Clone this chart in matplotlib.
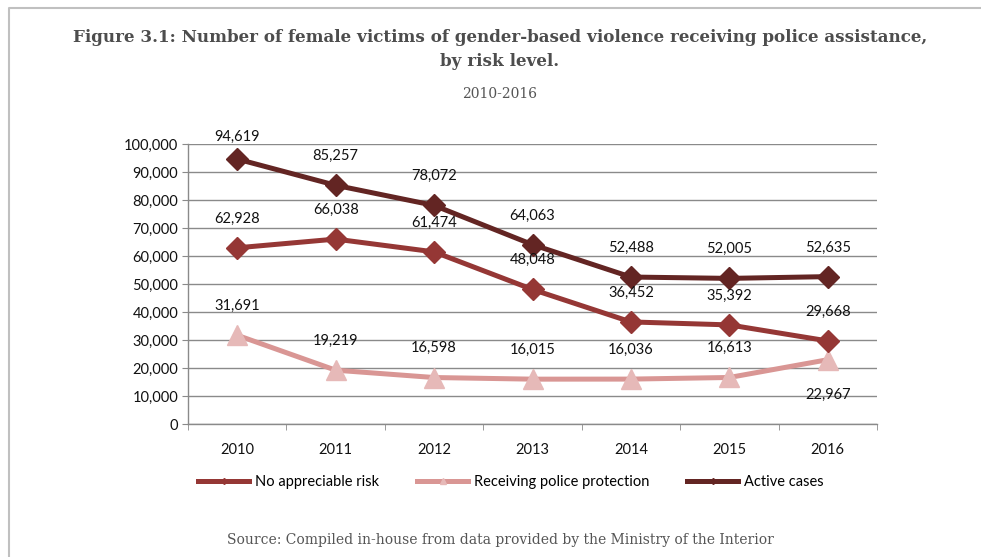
import numpy as np
import matplotlib.pyplot as plt
from matplotlib.ticker import FuncFormatter
from matplotlib.lines import Line2D

years = ['2010', '2011', '2012', '2013', '2014', '2015', '2016']
no_risk = [62928, 66038, 61474, 48048, 36452, 35392, 29668]
protection = [31691, 19219, 16598, 16015, 16036, 16613, 22967]
active = [94619, 85257, 78072, 64063, 52488, 52005, 52635]

series_names = ['No appreciable risk', 'Receiving police protection', 'Active cases']

c_active = '#632523'
c_norisk = '#953735'
c_prot_line = '#D99694'
c_prot_mark = '#E6B9B8'

plt.rcParams['font.family'] = ['Lato', 'DejaVu Sans']

fig = plt.figure(figsize=(9.81, 5.57), dpi=100)
ax = fig.add_axes([188 / 981, 1 - 424 / 557, 689 / 981, 280 / 557])

x = np.arange(len(years))

ax.plot(x, protection, color=c_prot_line, lw=3.6, marker='^', ms=14,
        mfc=c_prot_mark, mec=c_prot_mark, zorder=3)
ax.plot(x, no_risk, color=c_norisk, lw=3.6, marker='D', ms=11.5,
        mfc=c_norisk, mec=c_norisk, zorder=4)
ax.plot(x, active, color=c_active, lw=3.6, marker='D', ms=11.5,
        mfc=c_active, mec=c_active, zorder=5)

# value labels, mostly ~21pt above the point
def label(vals, special=None):
    special = special or {}
    for i, v in enumerate(vals):
        dy = special.get(i, 21)
        ax.annotate(f'{v:,}', (x[i], v), xytext=(0, dy), textcoords='offset points',
                    ha='center', va='center', fontsize=10.5, color='#111111',
                    annotation_clip=False, zorder=6)

label(active, {0: 16})
label(no_risk)
label(protection, {6: -25})

ax.set_xlim(-0.5, 6.5)
ax.set_ylim(0, 100000)
ax.set_yticks(np.arange(0, 100001, 10000))
ax.yaxis.set_major_formatter(FuncFormatter(lambda v, p: f'{v:,.0f}'))
ax.set_xticks(x)
ax.set_xticklabels(years)
ax.set_xticks(np.arange(-0.5, 7, 1), minor=True)

ax.grid(axis='y', color='#8a8a8a', lw=1)
ax.set_axisbelow(True)
for s in ['top', 'right']:
    ax.spines[s].set_visible(False)
for s in ['left', 'bottom']:
    ax.spines[s].set_color('#8a8a8a')
    ax.spines[s].set_linewidth(1)

ax.tick_params(axis='y', length=4, color='#8a8a8a', labelsize=10.5, pad=3, labelcolor='#111111')
ax.tick_params(axis='x', which='major', length=0, labelsize=10.5, pad=14, labelcolor='#111111')
ax.tick_params(axis='x', which='minor', length=4, color='#8a8a8a')

handles = [
    Line2D([], [], color=c_norisk, lw=3.6, marker='D', ms=3, mfc=c_norisk, mec=c_norisk),
    Line2D([], [], color=c_prot_line, lw=3.6, marker='^', ms=4, mfc=c_prot_mark, mec=c_prot_mark),
    Line2D([], [], color=c_active, lw=3.6, marker='D', ms=3, mfc=c_active, mec=c_active),
]
fig.legend(handles, series_names, loc='center', bbox_to_anchor=(511 / 981, 1 - 482 / 557),
           ncol=3, frameon=False, fontsize=10.5, handlelength=3.5, handletextpad=0.4,
           columnspacing=2.6)

serif = ['DejaVu Serif']
fig.text(500 / 981, 1 - 38 / 557,
         'Figure 3.1: Number of female victims of gender-based violence receiving police assistance,',
         ha='center', va='center', fontsize=12.1, fontweight='bold', color='#4d4d4d', family=serif)
fig.text(500 / 981, 1 - 62 / 557, 'by risk level.',
         ha='center', va='center', fontsize=12.1, fontweight='bold', color='#4d4d4d', family=serif)
fig.text(500 / 981, 1 - 94 / 557, '2010-2016', ha='center', va='center',
         fontsize=10, color='#555555', family=serif)
fig.text(500 / 981, 1 - 540 / 557,
         'Source: Compiled in-house from data provided by the Ministry of the Interior',
         ha='center', va='center', fontsize=10, color='#555555', family=serif)

# page frame: top and left rules
fig.add_artist(Line2D([9 / 981, 9 / 981, 1], [0, 1 - 8 / 557, 1 - 8 / 557],
                      transform=fig.transFigure, color='#c0c0c0', lw=1.5))

fig.savefig('out.png', dpi=100)
